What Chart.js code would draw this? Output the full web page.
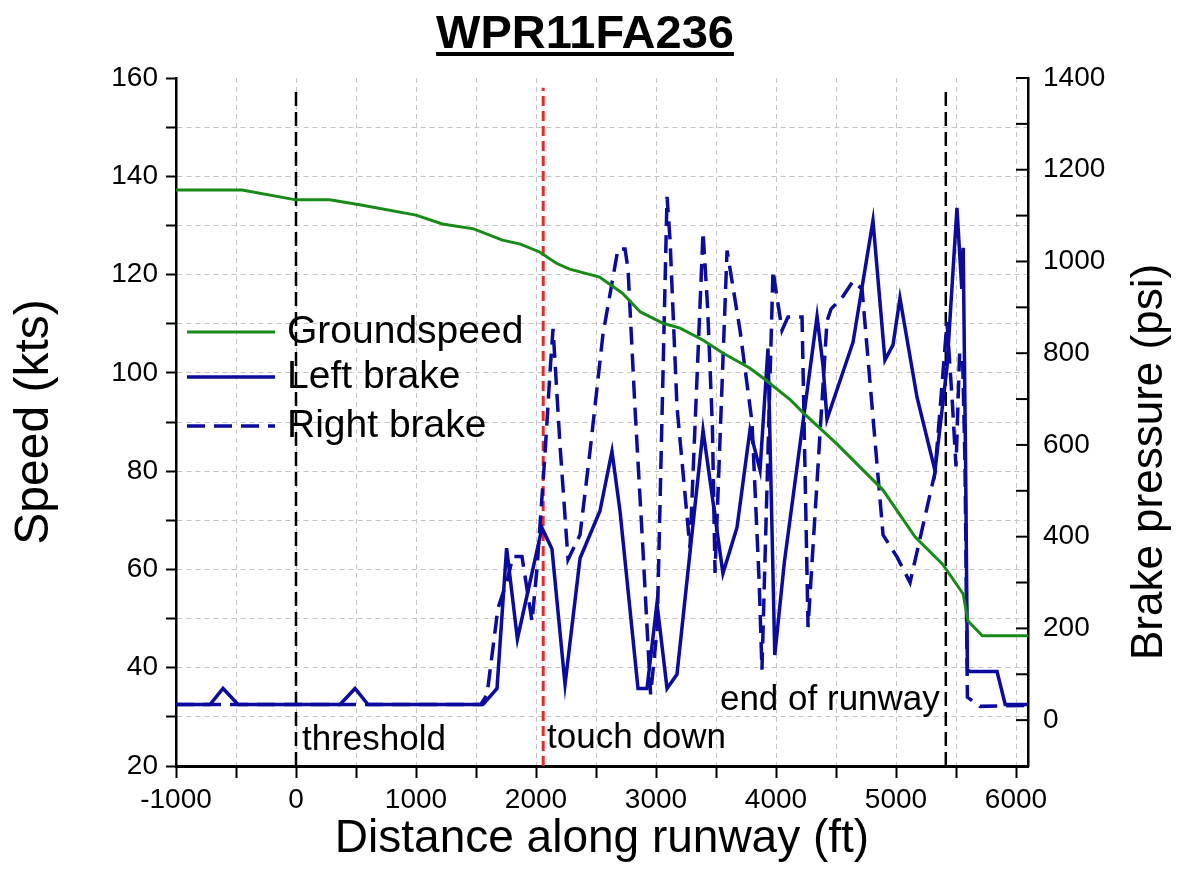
<!DOCTYPE html>
<html>
<head>
<meta charset="utf-8">
<script src="https://cdn.jsdelivr.net/npm/chart.js@4.4.1/dist/chart.umd.min.js"></script>
<style>
  html, body { margin: 0; padding: 0; background: #fff; }
  canvas { display: block; }
</style>
</head>
<body>
<canvas id="chart" width="1179" height="890"></canvas>
<script>
const chartTitle = 'WPR11FA236';

// [distance along runway (ft), groundspeed (kts)]
const groundspeed = [
  [-1000, 137.2], [-450, 137.2], [0, 135.2], [280, 135.2], [530, 134.2],
  [1000, 132.1], [1220, 130.3], [1480, 129.3], [1720, 127], [1870, 126.2],
  [2030, 124.6], [2170, 122.3], [2280, 121.1], [2530, 119.5], [2720, 116.2],
  [2870, 112.4], [3060, 110.1], [3200, 109.1], [3390, 106.7], [3560, 104],
  [3780, 101], [3890, 99], [4120, 94.5], [4230, 91.8], [4500, 85.7],
  [4890, 76.2], [5160, 66.6], [5390, 61], [5560, 55], [5600, 49.5],
  [5720, 46.5], [6100, 46.5]
];

// [distance (ft), left brake pressure (psi)]
const leftBrake = [
  [-1000, 34], [-717, 34], [-608, 69], [-483, 34], [367, 34], [492, 69], [600, 34],
  [1558, 34], [1675, 69], [1755, 375], [1845, 177], [2050, 419], [2133, 373],
  [2242, 78], [2367, 353], [2533, 456], [2633, 586], [2700, 456], [2850, 69],
  [2925, 69], [3008, 255], [3092, 69], [3175, 100], [3392, 632], [3558, 320],
  [3675, 420], [3783, 632], [3867, 545], [3933, 810], [3990, 142], [4070, 345],
  [4342, 880], [4392, 772], [4425, 656], [4642, 824], [4808, 1089], [4908, 785],
  [4975, 818], [5033, 920], [5175, 704], [5325, 544], [5425, 770], [5508, 1117],
  [5548, 940], [5560, 1030], [5580, 560], [5595, 110], [5617, 106], [5842, 106],
  [5910, 34], [6100, 34]
];

// [distance (ft), right brake pressure (psi)]
const rightBrake = [
  [-1000, 34], [1540, 34], [1592, 56], [1683, 244], [1758, 303], [1808, 357],
  [1883, 357], [1967, 215], [2008, 330], [2075, 580], [2117, 760], [2142, 853],
  [2200, 600], [2267, 350], [2367, 404], [2450, 586], [2558, 841], [2658, 990],
  [2683, 1027], [2742, 1027], [2767, 983], [2825, 680], [2892, 368], [2955, 56],
  [3010, 200], [3050, 660], [3092, 1141], [3117, 1048], [3175, 683], [3283, 375],
  [3392, 1064], [3430, 900], [3470, 640], [3492, 321], [3592, 1024], [3700, 850],
  [3800, 650], [3860, 300], [3883, 110], [3975, 980], [4050, 850], [4100, 879],
  [4217, 879], [4267, 203], [4425, 870], [4458, 896], [4558, 924], [4642, 957],
  [4717, 940], [4892, 404], [5008, 356], [5117, 300], [5325, 540], [5425, 868],
  [5470, 690], [5500, 553], [5530, 800], [5555, 790], [5575, 560], [5595, 50],
  [5700, 30], [6100, 32]
];

// vertical markers (ft) and the speed span they cover
const thresholdX = 0;
const touchdownX = 2060;
const runwayEndX = 5415;
const markerSpan = [20, 158];

// text notes in data coordinates (ft, kts)
const notes = [
  { text: 'threshold', x: 50, y: 23.3, align: 'left' },
  { text: 'touch down', x: 2092, y: 23.6, align: 'left' },
  { text: 'end of runway', x: 5365, y: 31.4, align: 'right' }
];

const FONT = "'Liberation Sans', Arial, sans-serif";
Chart.defaults.font.family = FONT;
Chart.defaults.color = '#000';

const toXY = (arr) => arr.map(([x, y]) => ({ x, y }));
const marker = (xv) => markerSpan.map((y) => ({ x: xv, y }));
// label only every n-th unit, tolerant of float noise
const every = (n, lo = -Infinity) => (v) => {
  const r = Math.round(v);
  return r >= lo && r % n === 0 ? String(r) : '';
};

const GREEN = '#178a17';
const BLUE = '#0b0b9e';
const GRID = '#c4c4c4';

const decorations = {
  id: 'decorations',
  afterDraw(chart) {
    const { ctx, chartArea: area, scales } = chart;
    const { x, y, y2 } = scales;
    ctx.save();

    // right axis ticks point inwards
    ctx.strokeStyle = '#000';
    ctx.lineWidth = 2;
    y2.ticks.forEach((t) => {
      const py = y2.getPixelForValue(t.value);
      ctx.beginPath();
      ctx.moveTo(area.right - 12, py);
      ctx.lineTo(area.right, py);
      ctx.stroke();
    });

    // underlined title
    ctx.fillStyle = '#000';
    ctx.font = 'bold 47px ' + FONT;
    ctx.textAlign = 'center';
    ctx.textBaseline = 'alphabetic';
    const cx = 585;
    ctx.fillText(chartTitle, cx, 48);
    const tw = ctx.measureText(chartTitle).width;
    ctx.fillRect(cx - tw / 2, 52, tw, 4);

    // right axis title, reading upwards
    ctx.save();
    ctx.translate(1150, 462);
    ctx.rotate(-Math.PI / 2);
    ctx.font = '44px ' + FONT;
    ctx.textBaseline = 'middle';
    ctx.fillText('Brake pressure (psi)', 0, 0);
    ctx.restore();

    // notes next to the markers
    ctx.font = '35px ' + FONT;
    ctx.textBaseline = 'alphabetic';
    notes.forEach((n) => {
      ctx.textAlign = n.align;
      ctx.fillText(n.text, x.getPixelForValue(n.x), y.getPixelForValue(n.y));
    });

    // legend inside the plot
    const items = chart.data.datasets.filter((d) => d.label);
    const rows = [332, 377, 426];
    ctx.font = '39px ' + FONT;
    ctx.textAlign = 'left';
    ctx.textBaseline = 'middle';
    items.forEach((d, i) => {
      const ly = rows[i];
      ctx.save();
      ctx.strokeStyle = d.borderColor;
      ctx.lineWidth = d.borderWidth;
      ctx.setLineDash(d.borderDash || []);
      ctx.beginPath();
      ctx.moveTo(area.left + 11, ly);
      ctx.lineTo(area.left + 99, ly);
      ctx.stroke();
      ctx.restore();
      ctx.fillText(d.label, area.left + 111, ly);
    });

    ctx.restore();
  }
};

new Chart(document.getElementById('chart'), {
  type: 'line',
  data: {
    datasets: [
      {
        label: 'Groundspeed',
        data: toXY(groundspeed),
        yAxisID: 'y',
        borderColor: GREEN,
        borderWidth: 3,
        pointRadius: 0,
        tension: 0
      },
      {
        label: 'Left brake',
        data: toXY(leftBrake),
        yAxisID: 'y2',
        borderColor: BLUE,
        borderWidth: 3.5,
        pointRadius: 0,
        tension: 0
      },
      {
        label: 'Right brake',
        data: toXY(rightBrake),
        yAxisID: 'y2',
        borderColor: BLUE,
        borderWidth: 3.5,
        borderDash: [18, 9],
        pointRadius: 0,
        tension: 0
      },
      {
        data: marker(thresholdX),
        yAxisID: 'y',
        borderColor: '#000',
        borderWidth: 2.5,
        borderDash: [14, 6],
        pointRadius: 0
      },
      {
        data: marker(touchdownX),
        yAxisID: 'y',
        borderColor: '#e42a2a',
        borderWidth: 3,
        borderDash: [10, 5],
        pointRadius: 0
      },
      {
        data: marker(runwayEndX),
        yAxisID: 'y',
        borderColor: '#000',
        borderWidth: 2.5,
        borderDash: [14, 6],
        pointRadius: 0
      }
    ]
  },
  plugins: [decorations],
  options: {
    responsive: false,
    animation: false,
    devicePixelRatio: 1,
    layout: { padding: { top: 78, left: 0, right: 0, bottom: 0 } },
    plugins: {
      legend: { display: false },
      tooltip: { enabled: false }
    },
    scales: {
      x: {
        type: 'linear',
        position: 'bottom',
        min: -1000,
        max: 6100,
        afterFit: (s) => { s.height = 124; },
        afterBuildTicks: (s) => {
          // one tick every 500 ft from -1000 to 6000
          s.ticks = [];
          for (let v = -1000; v <= 6000; v += 500) s.ticks.push({ value: v });
        },
        ticks: {
          autoSkip: false,
          maxRotation: 0,
          minRotation: 0,
          padding: 5,
          font: { size: 28 },
          callback: every(1000)
        },
        grid: {
          color: GRID,
          lineWidth: 1,
          tickLength: 12,
          tickColor: '#000',
          tickWidth: 2,
          tickBorderDash: []
        },
        border: { display: true, color: '#000', width: 3, dash: [5, 4] },
        title: {
          display: true,
          text: 'Distance along runway (ft)',
          font: { size: 46, lineHeight: 1.2 },
          padding: { top: 0, bottom: 23 }
        }
      },
      y: {
        position: 'left',
        min: 20,
        max: 160,
        afterFit: (s) => { s.width = 176; },
        ticks: {
          stepSize: 10,
          autoSkip: false,
          padding: 8,
          font: { size: 28 },
          callback: every(20)
        },
        grid: {
          color: (c) => (c.tick && (c.tick.value === 160 || c.tick.value === 20) ? 'rgba(0,0,0,0)' : GRID),
          lineWidth: 1,
          tickLength: 10,
          tickColor: '#000',
          tickWidth: 2,
          tickBorderDash: []
        },
        border: { display: true, color: '#000', width: 2.5, dash: [5, 4] },
        title: {
          display: true,
          text: 'Speed (kts)',
          font: { size: 48, lineHeight: 1.2 },
          padding: { top: 6, bottom: 0 }
        }
      },
      y2: {
        position: 'right',
        min: -100,
        max: 1400,
        afterFit: (s) => { s.width = 151; },
        ticks: {
          stepSize: 100,
          autoSkip: false,
          padding: 15,
          font: { size: 28 },
          callback: every(200, 0)
        },
        grid: { drawOnChartArea: false, drawTicks: false },
        border: { display: true, color: '#000', width: 2.5 }
      }
    }
  }
});
</script>
</body>
</html>
